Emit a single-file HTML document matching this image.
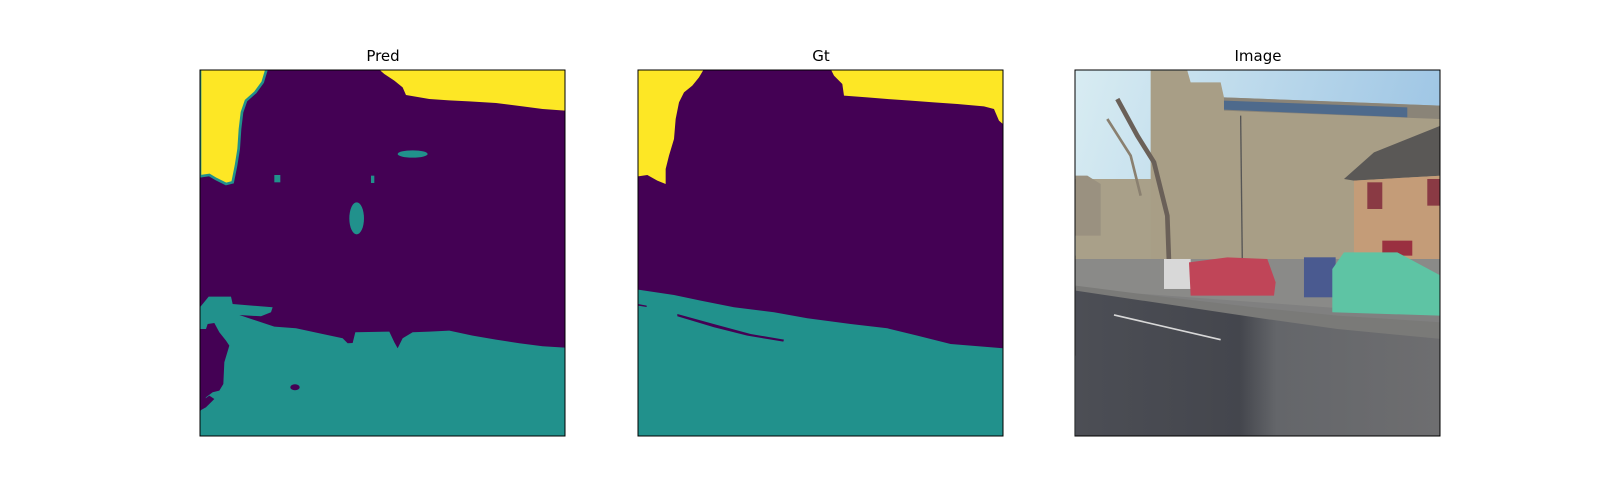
<!DOCTYPE html>
<html><head><meta charset="utf-8"><style>
html,body{margin:0;padding:0;background:#fff;}
svg{display:block;}
text{font-family:"DejaVu Sans","Liberation Sans",sans-serif;font-size:15px;fill:#000;}
</style></head><body>
<svg width="1600" height="500" viewBox="0 0 1600 500">
<defs>
<clipPath id="cp1"><rect x="200" y="70" width="365" height="366"/></clipPath>
<clipPath id="cp2"><rect x="638" y="70" width="365" height="366"/></clipPath>
<clipPath id="cp3"><rect x="1075" y="70" width="365" height="366"/></clipPath>
<linearGradient id="sky" x1="0" y1="0" x2="1" y2="0.3"><stop offset="0" stop-color="#d8ecf2"/><stop offset="1" stop-color="#9cc4e4"/></linearGradient>
<linearGradient id="road" x1="0" y1="0" x2="1" y2="0"><stop offset="0" stop-color="#4c4e55"/><stop offset="0.45" stop-color="#44464d"/><stop offset="0.55" stop-color="#64666a"/><stop offset="1" stop-color="#6e6e70"/></linearGradient>
</defs>

<!-- Pred -->
<text x="383" y="61" text-anchor="middle">Pred</text>
<g clip-path="url(#cp1)">
<rect x="200" y="70" width="365" height="366" fill="#440154"/>
<g transform="translate(196,69) scale(0.3333)">
<polygon fill="#fde725" stroke="#21918c" stroke-width="8" points="12,0 212,0 200,40 178,70 150,95 138,130 132,180 128,240 120,290 110,340 90,345 60,330 40,318 12,322"/>
<polygon fill="#fde725" points="548,0 1110,0 1110,125 1040,120 980,112 900,102 820,97 760,94 700,90 630,78 620,55 595,35 565,15"/>
<ellipse cx="650" cy="255" rx="45" ry="11" fill="#21918c"/>
<ellipse cx="482" cy="448" rx="22" ry="48" fill="#21918c"/>
<rect x="235" y="318" width="18" height="22" fill="#21918c"/>
<rect x="525" y="320" width="10" height="22" fill="#21918c"/>
<polygon fill="#21918c" points="12,715 38,683 105,683 110,705 230,715 225,730 195,742 130,738 235,773 300,778 380,795 440,808 455,823 470,822 478,790 580,788 595,820 605,838 620,808 650,790 700,788 760,785 830,800 900,812 970,823 1040,832 1110,836 1110,1110 12,1110 12,1030 30,985 50,970 70,965 82,945 85,880 100,830 90,815 70,790 55,762 35,765 30,780 12,780"/>
<ellipse cx="297" cy="955" rx="14" ry="9" fill="#440154"/>
<polygon fill="#440154" points="12,1000 40,980 55,990 30,1015 12,1025"/>
</g></g>
<rect x="200" y="70" width="365" height="366" fill="none" stroke="#000" stroke-width="1"/>

<!-- Gt -->
<text x="821" y="61" text-anchor="middle">Gt</text>
<g clip-path="url(#cp2)">
<rect x="638" y="70" width="365" height="366" fill="#440154"/>
<g transform="translate(634,69) scale(0.3333)">
<polygon fill="#fde725" points="12,0 210,0 195,25 175,50 150,70 135,100 125,150 120,210 105,260 95,300 95,345 70,335 40,318 12,322"/>
<polygon fill="#fde725" points="590,0 1110,0 1110,168 1095,155 1080,120 1050,112 970,105 900,100 830,95 760,90 700,85 630,80 625,45 600,20"/>
<polygon fill="#21918c" points="12,662 120,678 200,695 300,715 420,730 520,748 650,765 760,778 850,800 950,825 1110,838 1110,1110 12,1110"/>
<polygon fill="#440154" points="130,735 250,768 350,795 450,812 448,818 340,800 240,775 130,742"/>
<polygon fill="#440154" points="12,705 38,710 38,714 12,710"/>
</g></g>
<rect x="638" y="70" width="365" height="366" fill="none" stroke="#000" stroke-width="1"/>

<!-- Image -->
<text x="1258" y="61" text-anchor="middle">Image</text>
<g clip-path="url(#cp3)">
<rect x="1075" y="70" width="365" height="366" fill="url(#sky)"/>
<g transform="translate(1054,69) scale(0.3333)">
<rect x="65" y="560" width="1100" height="300" fill="#808080"/>
<polygon fill="#a9a089" points="65,330 300,330 300,580 65,580"/>
<polygon fill="#9a9180" points="65,320 100,320 140,345 140,500 65,500"/>
<polygon fill="#a89e86" points="290,5 400,5 410,40 500,40 510,85 1160,110 1160,580 290,580"/>
<polygon fill="#8a8478" points="510,85 1160,110 1160,150 510,125"/>
<polygon fill="#4e6a8c" points="510,95 1060,115 1060,145 510,122"/>
<polygon fill="#5a5856" points="870,330 960,250 1160,170 1160,320 900,335"/>
<polygon fill="#c49c78" points="900,335 1160,320 1160,600 900,600"/>
<rect x="940" y="340" width="45" height="80" fill="#8a3a44"/>
<rect x="1120" y="330" width="40" height="80" fill="#8a3a44"/>
<rect x="985" y="515" width="90" height="45" fill="#9a3040"/>
<polyline points="190,90 250,200 300,280 340,440 345,580" fill="none" stroke="#6a6058" stroke-width="14"/>
<polyline points="160,150 230,260 260,380" fill="none" stroke="#8a8070" stroke-width="8"/>
<line x1="560" y1="140" x2="565" y2="580" stroke="#555" stroke-width="4"/>
<polygon fill="#8a8a88" points="65,570 1160,570 1160,740 65,660"/>
<rect x="330" y="570" width="80" height="90" fill="#d8d8d8"/>
<polygon fill="#c04558" points="405,580 520,565 640,570 665,640 660,680 410,680"/>
<rect x="750" y="565" width="95" height="120" fill="#4a5a90"/>
<polygon fill="#5ec4a4" points="835,600 870,550 1030,550 1160,620 1160,740 835,730"/>
<polygon fill="url(#road)" points="65,655 300,690 600,740 850,770 1160,800 1160,1110 65,1110"/>
<polygon fill="#7a7a78" points="65,650 300,680 600,715 850,740 1160,760 1160,810 850,780 600,745 300,700 65,665"/>
<line x1="180" y1="738" x2="500" y2="812" stroke="#d8d8d8" stroke-width="5"/>
</g></g>
<rect x="1075" y="70" width="365" height="366" fill="none" stroke="#000" stroke-width="1"/>
</svg>
</body></html>
